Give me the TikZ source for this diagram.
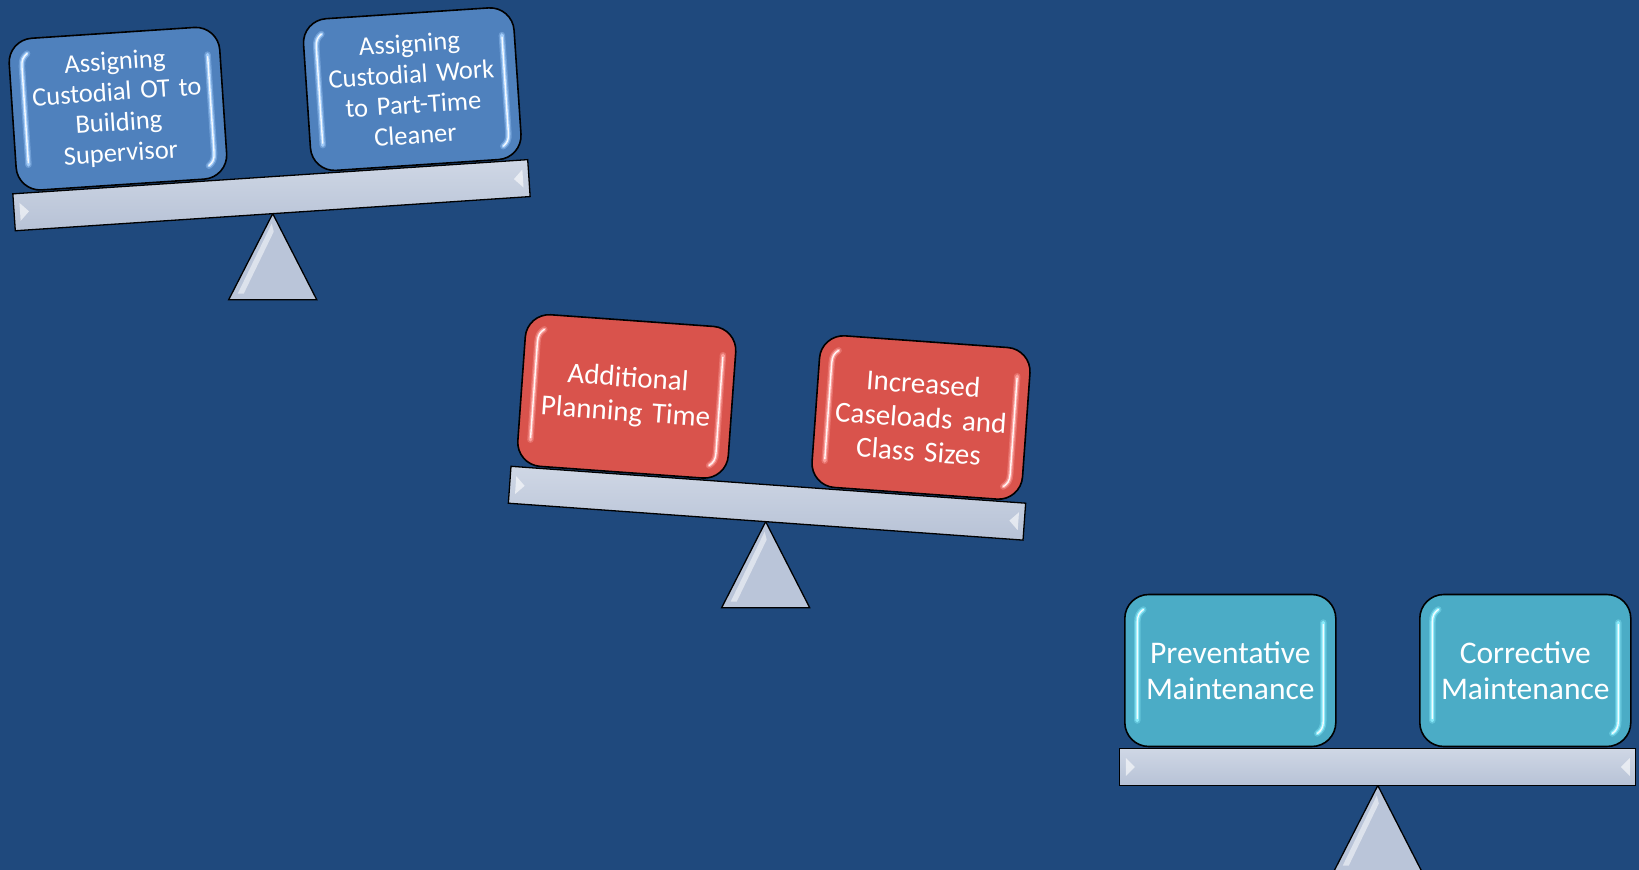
\documentclass[tikz,border=0pt]{standalone}
\usepackage{fontspec}
\setmainfont{Carlito}
\usetikzlibrary{calc}

\definecolor{bgblue}{HTML}{1F497D}
\definecolor{boxblue}{HTML}{4F81BD}
\definecolor{boxred}{HTML}{D9534C}
\definecolor{boxteal}{HTML}{4BACC6}
\definecolor{gleamblue}{HTML}{A9D2FF}
\definecolor{gleamred}{HTML}{FFA8A4}
\definecolor{gleamteal}{HTML}{8FF0FF}
\definecolor{beamtop}{HTML}{CFD7E5}
\definecolor{beambottom}{HTML}{B7C2D6}
\definecolor{pivotgray}{HTML}{BAC5D9}

\tikzset{
  plank/.style={draw=black, line width=1.3pt, top color=beamtop, bottom color=beambottom,
    minimum width=516pt, minimum height=37pt, inner sep=0pt, transform shape},
  weight/.style={draw=black, line width=1.6pt, rounded corners=24pt,
    minimum width=211pt, minimum height=152pt, text width=205pt, align=center,
    text=white, inner sep=0pt, transform shape},
  fulcrum/.style={draw=black, line width=1.3pt, fill=pivotgray, line join=miter},
  glow/.style={line width=6.5pt, line cap=round, draw opacity=0.35},
  gleam/.style={line width=3.8pt, line cap=round, draw opacity=0.85},
  gleamcore/.style={line width=1.4pt, line cap=round, draw=white, draw opacity=0.9},
  bevel/.style={fill=white, fill opacity=0.6},
}

% glossy streaks along the inner left and right edges of a weight box
\newcommand\gleams[1]{%
  \foreach \st in {glow,gleam}{%
    \draw[\st, draw=#1] (-93,50) -- (-93,-48) .. controls (-93,-55) and (-91,-58) .. (-87,-61);
    \draw[\st, draw=#1] (93,-48) -- (93,50) .. controls (93,57) and (91,60) .. (87,63);
  }%
  \draw[gleamcore] (-93,48) -- (-93,-48) .. controls (-93,-55) and (-91,-58) .. (-87,-61);
  \draw[gleamcore] (93,-46) -- (93,50) .. controls (93,57) and (91,60) .. (87,63);
}

% #1 name, #2 centre of plank, #3 tilt, #4 box fill, #5 streak colour,
% #6 font, #7 left text, #8 right text
\newcommand\seesaw[8]{%
  \begin{scope}[shift={#2}, rotate=#3]
    \coordinate (#1-pivot) at (0,18.5);
  \end{scope}
  \draw[fulcrum] (#1-pivot) -- ++(44,86) -- ++(-88,0) -- cycle;
  \fill[white, fill opacity=0.5] ($(#1-pivot)+(-1,10)$) -- ($(#1-pivot)+(-35,80)$)
    -- ($(#1-pivot)+(-29,80)$) -- ($(#1-pivot)+(1,18)$) -- cycle;
  \begin{scope}[shift={#2}, rotate=#3]
    \node[plank] (#1-beam) at (0,0) {};
    \fill[bevel] (-252,-9) -- (-243,0) -- (-252,9) -- cycle;
    \fill[bevel] (252,-9) -- (243,0) -- (252,9) -- cycle;
    \node[weight, fill=#4, font=#6] (#1-left) at (-147.5,-96.5) {#7};
    \node[weight, fill=#4, font=#6] (#1-right) at (147.5,-96.5) {#8};
    \begin{scope}[shift={(-147.5,-96.5)}]\gleams{#5}\end{scope}
    \begin{scope}[shift={(147.5,-96.5)}]\gleams{#5}\end{scope}
  \end{scope}
}

\begin{document}
\begin{tikzpicture}[x=1pt, y=-1pt]
  \fill[bgblue] (0,0) rectangle (1639,870);
  \useasboundingbox (0,0) rectangle (1639,870);

  \seesaw{custodial}{(271.5,195.2)}{3.8}{boxblue}{gleamblue}
    {\fontsize{26.5}{30.5}\selectfont}
    {Assigning\\Custodial OT to\\Building\\Supervisor}
    {Assigning\\Custodial Work\\to Part-Time\\Cleaner}

  \seesaw{planning}{(767,503.2)}{-4.1}{boxred}{gleamred}
    {\fontsize{29}{34}\selectfont}
    {Additional\\Planning Time}
    {Increased\\Caseloads and\\Class Sizes}

  \seesaw{maintenance}{(1377.8,767)}{0}{boxteal}{gleamteal}
    {\fontsize{31.5}{36}\selectfont}
    {Preventative\\Maintenance}
    {Corrective\\Maintenance}
\end{tikzpicture}
\end{document}
